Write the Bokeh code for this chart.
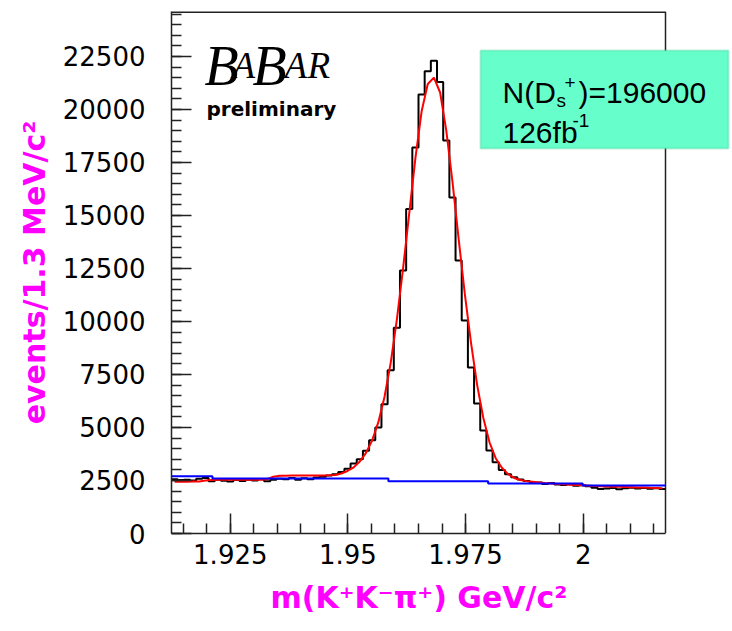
import numpy as np
from bokeh.plotting import figure
from bokeh.models import FixedTicker, BoxAnnotation, Label, Range1d, Title
from bokeh.embed import file_html
from bokeh.resources import INLINE

# ---------------- data ----------------
bin_lo = 1.9125
bin_hi = 2.0175
n_bins = 80

counts = [2560, 2520, 2540, 2500, 2580, 2620, 2470, 2540, 2490, 2450,
          2520, 2480, 2540, 2500, 2560, 2470, 2530, 2580, 2560, 2620,
          2540, 2600, 2560, 2640, 2680, 2730,
          2800, 2900, 3050, 3300, 3500, 3900, 4400, 5000, 6100, 7700,
          9700, 12400, 15300, 18200, 20700, 21800, 22300, 21300, 18540, 15850,
          12880, 10050, 7830, 6130, 4860, 3910, 3360, 3000, 2800, 2650,
          2550, 2480, 2420,
          2400, 2330, 2380, 2310, 2290, 2320, 2250, 2270, 2230, 2160,
          2100, 2120, 2150, 2090, 2130, 2160, 2120, 2150, 2110, 2140, 2100]

fit_vals = [2440, 2440, 2445, 2450, 2455, 2500, 2525, 2530, 2530, 2530,
            2535, 2535, 2535, 2540, 2540, 2560, 2680, 2720, 2725, 2730,
            2730, 2735, 2735, 2740, 2740, 2745,
            2760, 2830, 2950, 3120, 3400, 3800, 4400, 5250, 6450, 8050,
            10100, 12500, 15100, 17700, 19900, 21200, 21500, 20800, 19000, 16600,
            13900, 11300, 9000, 7000, 5450, 4300, 3550, 3100, 2800, 2620,
            2520, 2470, 2440,
            2410, 2380, 2360, 2340, 2320, 2300, 2285, 2270, 2255, 2240,
            2230, 2220, 2210, 2200, 2190, 2180, 2170, 2165, 2155, 2150, 2140]

bg_edges = [1.9125, 1.9212, 1.9586, 1.9798, 1.9999, 2.0175]
bg_vals = [2700, 2590, 2470, 2360, 2260]

x_major = [1.925, 1.95, 1.975, 2.0]
x_labels = ["1.925", "1.95", "1.975", "2"]
y_major = [0, 2500, 5000, 7500, 10000, 12500, 15000, 17500, 20000, 22500]
y_labels = ["0", "2500", "5000", "7500", "10000", "12500", "15000", "17500", "20000", "22500"]

x_title = "m(K\u207aK\u207b\u03c0\u207a) GeV/c\u00b2"
y_title = "events/1.3 MeV/c\u00b2"
# ------------------------------------------------------------

X0, X1 = 1.9125, 2.0175          # axis range of the histogram frame
Y0, Y1 = 0, 24620
AW, FH = 494, 522                # pixel size of the drawn axes box
L, T = 171, 11
FW = 732 - L                     # canvas frame extends to the right edge (for the info box)
XR = X0 + FW / AW * (X1 - X0)


def px2x(px):
    return X0 + (px - L) / AW * (X1 - X0)


def py2y(py):
    return Y0 + (T + FH - py) / FH * (Y1 - Y0)


p = figure(frame_width=FW, frame_height=FH,
           x_range=Range1d(X0, XR), y_range=Range1d(Y0, Y1),
           output_backend="svg", toolbar_location=None,
           min_border_left=L, min_border_right=0,
           min_border_top=T, min_border_bottom=631 - T - FH)

p.xgrid.visible = False
p.ygrid.visible = False
p.background_fill_color = "white"
p.border_fill_color = "white"
p.outline_line_color = None

x_minor = list(np.round(np.arange(1.915, 2.0175, 0.005), 4))
y_minor = list(range(0, 24620, 500))

xa = p.xaxis[0]
xa.ticker = FixedTicker(ticks=x_major, minor_ticks=x_minor)
xa.major_label_overrides = dict(zip(x_major, x_labels))
xa.bounds = (X0, X1)
ya = p.yaxis[0]
ya.ticker = FixedTicker(ticks=y_major, minor_ticks=y_minor)
ya.major_label_overrides = dict(zip(y_major, y_labels))

for ax in (xa, ya):
    ax.axis_line_color = "#222222"
    ax.axis_line_width = 1.5
    ax.major_tick_in = 20
    ax.major_tick_out = 0
    ax.minor_tick_in = 10
    ax.minor_tick_out = 0
    ax.major_tick_line_color = "#222222"
    ax.minor_tick_line_color = "#222222"
    ax.major_tick_line_width = 1.5
    ax.minor_tick_line_width = 1.5
    ax.major_label_text_font = "DejaVu Sans"
    ax.major_label_text_font_size = "26px"
    ax.major_label_text_color = "black"
    ax.axis_label_text_font = "DejaVu Sans"
    ax.axis_label_text_font_size = "30px"
    ax.axis_label_text_font_style = "bold"
    ax.axis_label_text_color = "#ff00ff"

xa.major_label_standoff = 10
ya.axis_label = y_title
ya.major_label_standoff = 26
ya.axis_label_standoff = 8

# x-axis title, centred under the histogram box (not under the wider canvas frame)
p.add_layout(Title(text=x_title, align="left", offset=99, standoff=22,
                   vertical_align="bottom",
                   text_font="DejaVu Sans", text_font_size="30px",
                   text_font_style="bold", text_color="#ff00ff"), "below")

# axes box lines (top, right) ending at the histogram range
p.segment(x0=[X0, X1], y0=[Y1, Y0], x1=[X1, X1], y1=[Y1, Y1],
          line_color="#222222", line_width=[3, 1.5])

edges = np.linspace(bin_lo, bin_hi, n_bins + 1)
centers = 0.5 * (edges[:-1] + edges[1:])

p.step(edges, list(counts) + [counts[-1]], mode="after", line_color="black", line_width=2)
p.line(centers, fit_vals, line_color="red", line_width=2)
p.step(bg_edges, list(bg_vals) + [bg_vals[-1]], mode="after", line_color="blue", line_width=2)

# info box
box = BoxAnnotation(left=px2x(480), right=px2x(728), top=py2y(50), bottom=py2y(148),
                    fill_color="#66ffcc", fill_alpha=1.0, line_color="#2fc690",
                    line_width=2, level="overlay")
p.add_layout(box)


def lab(text, px, py, size, font="Liberation Sans", style="normal", color="black"):
    p.add_layout(Label(x=px2x(px), y=py2y(py), text=text, text_font=font,
                       text_font_size=size, text_font_style=style, text_color=color,
                       text_baseline="alphabetic", text_align="left", level="overlay"))


lab("N(D", 502, 92, "30px")
lab("s", 556, 100, "19px")
lab("+", 564, 82, "19px")
lab(")=196000", 578, 92, "30px")
lab("126fb", 502, 132, "30px")
lab("-1", 572, 120, "19px")

# BaBar logo
lab("B", 204, 65, "56px", font="Liberation Serif", style="italic")
lab("A", 232, 65, "37px", font="Liberation Serif", style="italic")
lab("B", 252, 65, "56px", font="Liberation Serif", style="italic")
lab("A", 284, 65, "37px", font="Liberation Serif", style="italic")
lab("R", 307, 65, "37px", font="Liberation Serif", style="italic")
lab("preliminary", 206, 108, "20px", font="DejaVu Sans", style="bold")

open("out.html", "w").write(file_html(p, INLINE))
